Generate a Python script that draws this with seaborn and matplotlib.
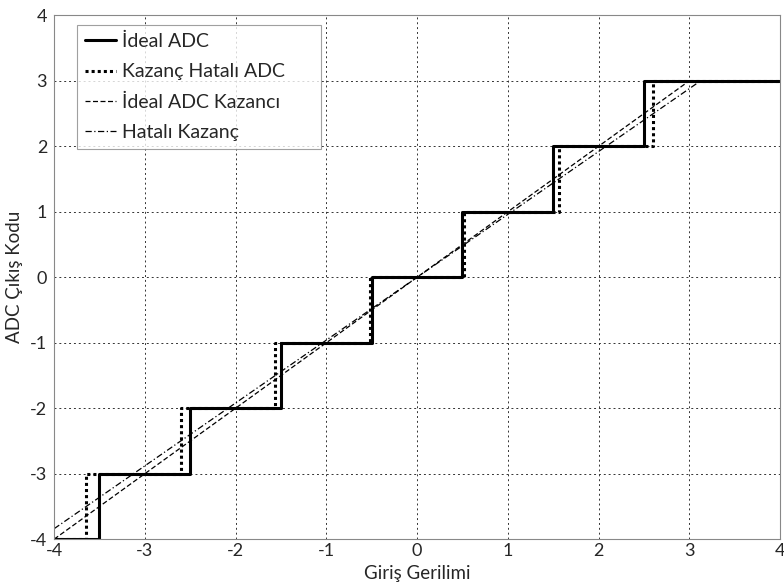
import matplotlib
matplotlib.use('Agg')
import matplotlib.pyplot as plt
import pandas as pd
import seaborn as sns

# Değerler
ideal_x = [-4, -3.5, -2.5, -1.5, -0.5, 0.5, 1.5, 2.5, 4]
ideal_y = [-4, -3, -2, -1, 0, 1, 2, 3, 3]
hatali_x = [-4, -3.646, -2.604, -1.5625, -0.521, 0.521, 1.5625, 2.604, 4]
hatali_y = [-4, -3, -2, -1, 0, 1, 2, 3, 3]
kazanc_x = [-4, 3]
kazanc_y = [-4, 3]
hk_x = [-4, 3.125]
hk_y = [-3.84, 3]

sns.set_style('white')
plt.rcParams['font.family'] = ['Lato', 'DejaVu Sans']
plt.rcParams['axes.unicode_minus'] = False

fig, ax = plt.subplots(figsize=(7.84, 5.88), dpi=100)
fig.subplots_adjust(left=0.069, right=0.995, top=0.974, bottom=0.083)

sns.lineplot(x=ideal_x, y=ideal_y, ax=ax, sort=False, estimator=None, drawstyle='steps-post',
             color='black', linewidth=2.2, label='İdeal ADC')
sns.lineplot(x=hatali_x, y=hatali_y, ax=ax, sort=False, estimator=None, drawstyle='steps-post',
             color='black', linewidth=2.2, linestyle=(0, (1, 1)), label='Kazanç Hatalı ADC')
sns.lineplot(x=kazanc_x, y=kazanc_y, ax=ax, sort=False, estimator=None,
             color='black', linewidth=0.9, linestyle=(0, (4, 2)), label='İdeal ADC Kazancı')
sns.lineplot(x=hk_x, y=hk_y, ax=ax, sort=False, estimator=None,
             color='black', linewidth=0.9, linestyle=(0, (5, 2, 1, 2)), label='Hatalı Kazanç')

ax.set_xlim(-4, 4)
ax.set_ylim(-4, 4)
ax.set_xticks(range(-4, 5))
ax.set_yticks(range(-4, 5))
ax.tick_params(labelsize=13, length=3, direction='in', color='#888888')
ax.tick_params(axis='x', pad=3)
ax.tick_params(axis='y', pad=5)
ax.grid(True, linestyle=(0, (2, 3)), color='#333333', linewidth=0.7)
for s in ax.spines.values():
    s.set_color('#888888')
    s.set_linewidth(0.8)

ax.set_xlabel('Giriş Gerilimi', fontsize=13.5, labelpad=4)
ax.set_ylabel('ADC Çıkış Kodu', fontsize=13.5, labelpad=5)

leg = ax.legend(loc='upper left', bbox_to_anchor=(0.032, 0.981, 0.335, 0.0), mode='expand',
                borderaxespad=0, fontsize=14, frameon=True, fancybox=False,
                handlelength=1.6, handletextpad=0.3, borderpad=0.4, labelspacing=0.68)
leg.get_frame().set_edgecolor('#888888')
leg.get_frame().set_linewidth(0.8)

plt.savefig('out.png', dpi=100)
